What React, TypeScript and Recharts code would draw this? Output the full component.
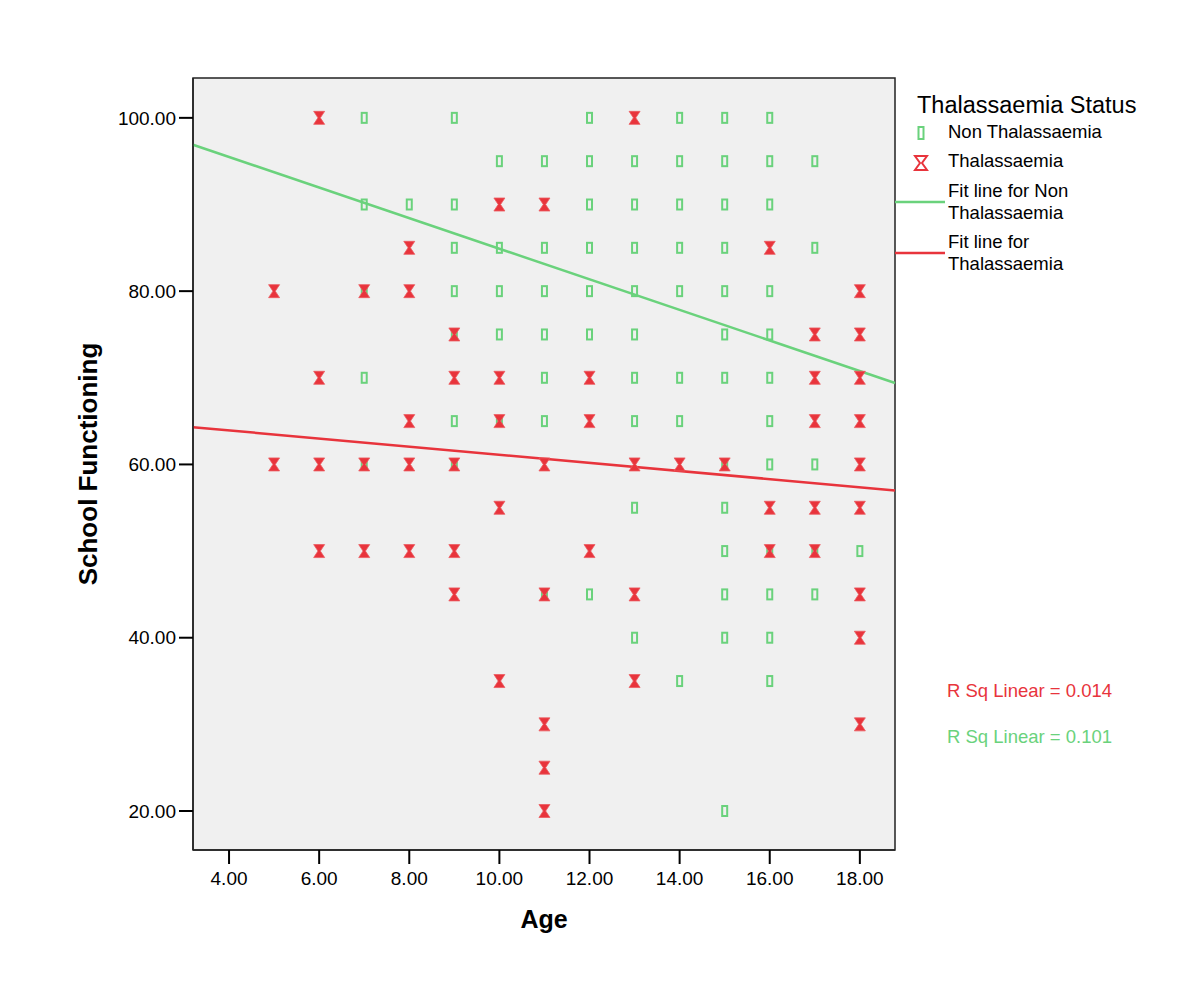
import React from 'react';
import { ScatterChart, Scatter, XAxis, YAxis, ReferenceArea, ReferenceLine } from 'recharts';

const FONT = 'Arial, "Liberation Sans", sans-serif';
const GREEN = '#6ad27c';
const RED = '#e8343c';

// [age, school functioning score]
const nonThalassaemia: [number, number][] = [
  [7, 100], [9, 100], [12, 100], [14, 100], [15, 100], [16, 100],
  [10, 95], [11, 95], [12, 95], [13, 95], [14, 95], [15, 95], [16, 95], [17, 95],
  [7, 90], [8, 90], [9, 90], [12, 90], [13, 90], [14, 90], [15, 90], [16, 90],
  [9, 85], [10, 85], [11, 85], [12, 85], [13, 85], [14, 85], [15, 85], [17, 85],
  [7, 80], [9, 80], [10, 80], [11, 80], [12, 80], [13, 80], [14, 80], [15, 80], [16, 80],
  [9, 75], [10, 75], [11, 75], [12, 75], [13, 75], [15, 75], [16, 75],
  [7, 70], [11, 70], [13, 70], [14, 70], [15, 70], [16, 70],
  [9, 65], [10, 65], [11, 65], [13, 65], [14, 65], [16, 65],
  [7, 60], [9, 60], [15, 60], [16, 60], [17, 60],
  [13, 55], [15, 55],
  [15, 50], [16, 50], [17, 50], [18, 50],
  [11, 45], [12, 45], [15, 45], [16, 45], [17, 45],
  [13, 40], [15, 40], [16, 40],
  [14, 35], [16, 35],
  [15, 20],
];

const thalassaemia: [number, number][] = [
  [6, 100], [13, 100],
  [10, 90], [11, 90],
  [8, 85], [16, 85],
  [5, 80], [7, 80], [8, 80], [18, 80],
  [9, 75], [17, 75], [18, 75],
  [6, 70], [9, 70], [10, 70], [12, 70], [17, 70], [18, 70],
  [8, 65], [10, 65], [12, 65], [17, 65], [18, 65],
  [5, 60], [6, 60], [7, 60], [8, 60], [9, 60], [11, 60], [13, 60], [14, 60], [15, 60], [18, 60],
  [10, 55], [16, 55], [17, 55], [18, 55],
  [6, 50], [7, 50], [8, 50], [9, 50], [12, 50], [16, 50], [17, 50],
  [9, 45], [11, 45], [13, 45], [18, 45],
  [18, 40],
  [10, 35], [13, 35],
  [11, 30], [18, 30],
  [11, 25],
  [11, 20],
];

const fitNonThal = [{ x: 3.2, y: 96.9 }, { x: 18.78, y: 69.4 }];
const fitThal = [{ x: 3.2, y: 64.3 }, { x: 18.78, y: 57.0 }];

const xTicks = [4, 6, 8, 10, 12, 14, 16, 18];
const yTicks = [20, 40, 60, 80, 100];
const xDomain = [3.2, 18.78];
const yDomain = [15.5, 104.6];

const toPoints = (rows: [number, number][]) => rows.map(([age, score]) => ({ age, score }));

const RectMarker = (props: any) => {
  const { cx, cy } = props;
  if (cx == null || cy == null) return null;
  return <rect x={cx - 2.5} y={cy - 5} width={5} height={10} fill="none" stroke={GREEN} strokeWidth={2} />;
};

const HourglassMarker = (props: any) => {
  const { cx, cy } = props;
  if (cx == null || cy == null) return null;
  return (
    <path
      d={`M${cx - 5.5},${cy - 6.5} H${cx + 5.5} L${cx + 1.2},${cy} L${cx + 5.5},${cy + 6.5} H${cx - 5.5} L${cx - 1.2},${cy} Z`}
      fill={RED}
      stroke="#ec5a60"
      strokeWidth={0.8}
    />
  );
};

const YTitle = (props: any) => {
  const vb = props.viewBox || { x: 0, y: 78, width: 193, height: 772 };
  const x = vb.x + 88;
  const y = vb.y + vb.height / 2;
  return (
    <text x={x} y={y} transform={`rotate(-90, ${x}, ${y})`} textAnchor="middle" dominantBaseline="central"
      fontFamily={FONT} fontWeight="bold" fontSize={26} fill="#000">
      School Functioning
    </text>
  );
};

const XTitle = (props: any) => {
  const vb = props.viewBox || { x: 193, y: 850, width: 702, height: 60 };
  return (
    <text x={vb.x + vb.width / 2} y={vb.y + 69} textAnchor="middle" dominantBaseline="central"
      fontFamily={FONT} fontWeight="bold" fontSize={25} fill="#000">
      Age
    </text>
  );
};

export default function App() {
  return (
    <div style={{ position: 'absolute', left: 0, top: 0, width: 1200, height: 992, background: '#fff' }}>
      <ScatterChart width={1200} height={992} margin={{ top: 78, right: 305, bottom: 82, left: 0 }}>
        <ReferenceArea
          x1={xDomain[0]}
          x2={xDomain[1]}
          y1={yDomain[0]}
          y2={yDomain[1]}
          fill="#f0f0f0"
          fillOpacity={1}
          stroke="#222"
          strokeWidth={1.5}
          ifOverflow="visible"
        />
        <XAxis
          type="number"
          dataKey="age"
          domain={xDomain}
          ticks={xTicks}
          tickFormatter={(v: number) => v.toFixed(2)}
          height={60}
          tickSize={14}
          tickMargin={8}
          axisLine={{ stroke: '#222', strokeWidth: 1.5 }}
          tickLine={{ stroke: '#000', strokeWidth: 2 }}
          tick={{ fill: '#000', fontSize: 19, fontFamily: FONT }}
          label={<XTitle />}
        />
        <YAxis
          type="number"
          dataKey="score"
          domain={yDomain}
          ticks={yTicks}
          tickFormatter={(v: number) => v.toFixed(2)}
          width={193}
          tickSize={14}
          tickMargin={3}
          axisLine={{ stroke: '#222', strokeWidth: 1.5 }}
          tickLine={{ stroke: '#000', strokeWidth: 2 }}
          tick={{ fill: '#000', fontSize: 19, fontFamily: FONT }}
          label={<YTitle />}
        />
        <Scatter name="Non Thalassaemia" data={toPoints(nonThalassaemia)} shape={RectMarker} isAnimationActive={false} />
        <Scatter name="Thalassaemia" data={toPoints(thalassaemia)} shape={HourglassMarker} isAnimationActive={false} />
        <ReferenceLine segment={fitNonThal} stroke={GREEN} strokeWidth={2.5} ifOverflow="visible" />
        <ReferenceLine segment={fitThal} stroke={RED} strokeWidth={2.5} ifOverflow="visible" />
      </ScatterChart>

      <svg width={1200} height={992} style={{ position: 'absolute', left: 0, top: 0, pointerEvents: 'none' }}>
        <g fontFamily={FONT} fill="#000">
          <text x={917} y={113} fontSize={23.5}>Thalassaemia Status</text>
          <rect x={918.5} y={127} width={5} height={12} fill="none" stroke={GREEN} strokeWidth={2} />
          <text x={948} y={138} fontSize={18.5}>Non Thalassaemia</text>
          <path d="M915,156 H927 L922,163 L927,170 H915 L920,163 Z" fill="none" stroke={RED} strokeWidth={2} />
          <text x={948} y={167} fontSize={18.5}>Thalassaemia</text>
          <line x1={895} y1={202} x2={945} y2={202} stroke={GREEN} strokeWidth={2.5} />
          <text x={948} y={197} fontSize={18.5}>Fit line for Non</text>
          <text x={948} y={219} fontSize={18.5}>Thalassaemia</text>
          <line x1={895} y1={253} x2={945} y2={253} stroke={RED} strokeWidth={2.5} />
          <text x={948} y={248} fontSize={18.5}>Fit line for</text>
          <text x={948} y={270} fontSize={18.5}>Thalassaemia</text>
          <text x={947} y={697} fontSize={18.5} fill={RED}>R Sq Linear = 0.014</text>
          <text x={947} y={743} fontSize={18.5} fill={GREEN}>R Sq Linear = 0.101</text>
        </g>
      </svg>
    </div>
  );
}
